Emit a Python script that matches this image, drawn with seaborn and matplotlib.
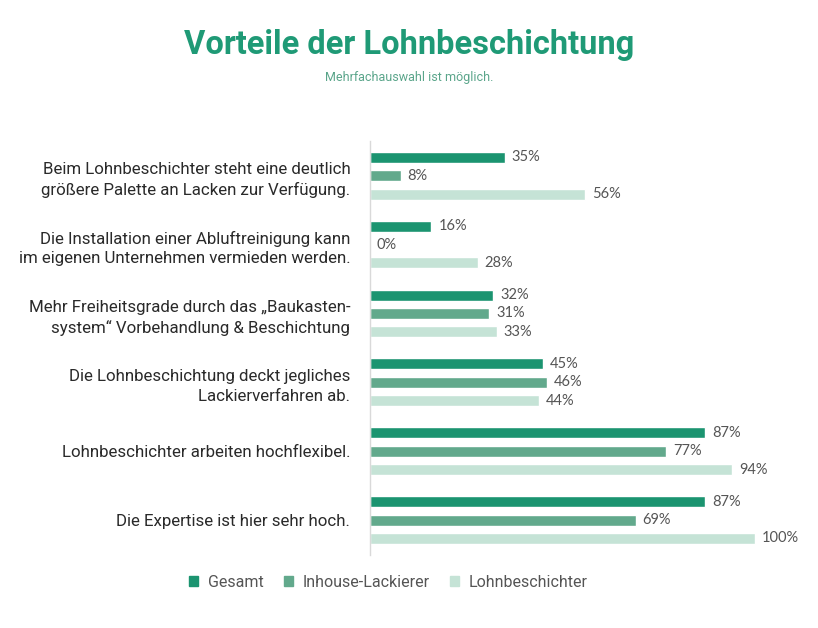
import pandas as pd
import matplotlib.pyplot as plt
import seaborn as sns

# Chart data
categories = [
    "Beim Lohnbeschichter steht eine deutlich\ngrößere Palette an Lacken zur Verfügung.",
    "Die Installation einer Abluftreinigung kann\nim eigenen Unternehmen vermieden werden.",
    "Mehr Freiheitsgrade durch das „Baukasten-\nsystem“ Vorbehandlung & Beschichtung",
    "Die Lohnbeschichtung deckt jegliches\nLackierverfahren ab.",
    "Lohnbeschichter arbeiten hochflexibel.",
    "Die Expertise ist hier sehr hoch.",
]
series_names = ["Gesamt", "Inhouse-Lackierer", "Lohnbeschichter"]
gesamt = [35, 16, 32, 45, 87, 87]
inhouse = [8, 0, 31, 46, 77, 69]
lohn = [56, 28, 33, 44, 94, 100]
colors = ["#1b9470", "#62a98c", "#c5e3d6"]

rows = []
for name, vals in zip(series_names, [gesamt, inhouse, lohn]):
    for cat, v in zip(categories, vals):
        rows.append({"Kategorie": cat, "Gruppe": name, "Wert": v})
df = pd.DataFrame(rows)

sns.set_style("white")
plt.rcParams["font.family"] = ["Roboto", "DejaVu Sans"]

fig = plt.figure(figsize=(8.18, 6.28), dpi=100)
ax = fig.add_axes([0.452, 0.117, 0.471, 0.658])

sns.barplot(data=df, y="Kategorie", x="Wert", hue="Gruppe", order=categories,
            hue_order=series_names, palette=colors, orient="h", saturation=1,
            width=0.8, gap=0.4, legend=False, ax=ax)

ax.set_xlim(0, 100)
ax.set_ylim(5.5, -0.5)
ax.set_xlabel("")
ax.set_ylabel("")
ax.set_xticks([])
for s in ["top", "right", "bottom"]:
    ax.spines[s].set_visible(False)
ax.spines["left"].set_color("#d9d9d9")
ax.spines["left"].set_linewidth(1)
ax.tick_params(axis="y", length=0, pad=14)
for lbl in ax.get_yticklabels():
    lbl.set_fontsize(12.2)
    lbl.set_color("#2a2a2a")
    lbl.set_linespacing(1.4)

for container in ax.containers:
    ax.bar_label(container, labels=[f"{int(v)}%" for v in container.datavalues],
                 padding=5, fontsize=10.5, color="#555555",
                 family=["Lato", "DejaVu Sans"])

fig.text(0.5, 0.929, "Vorteile der Lohnbeschichtung", ha="center", va="center",
         fontsize=23.5, fontweight="bold", color="#1f9a76")
fig.text(0.5, 0.876, "Mehrfachauswahl ist möglich.", ha="center", va="center",
         fontsize=9, color="#5aa58a")

handles = [plt.Rectangle((0, 0), 1, 1, color=c) for c in colors]
fig.legend(handles, series_names, loc="center", bbox_to_anchor=(0.475, 0.073),
           ncol=3, frameon=False, fontsize=11.5, handlelength=0.55,
           handleheight=0.55, handletextpad=0.6, columnspacing=1.3,
           labelcolor="#555555")

fig.savefig("out.png", dpi=100)
